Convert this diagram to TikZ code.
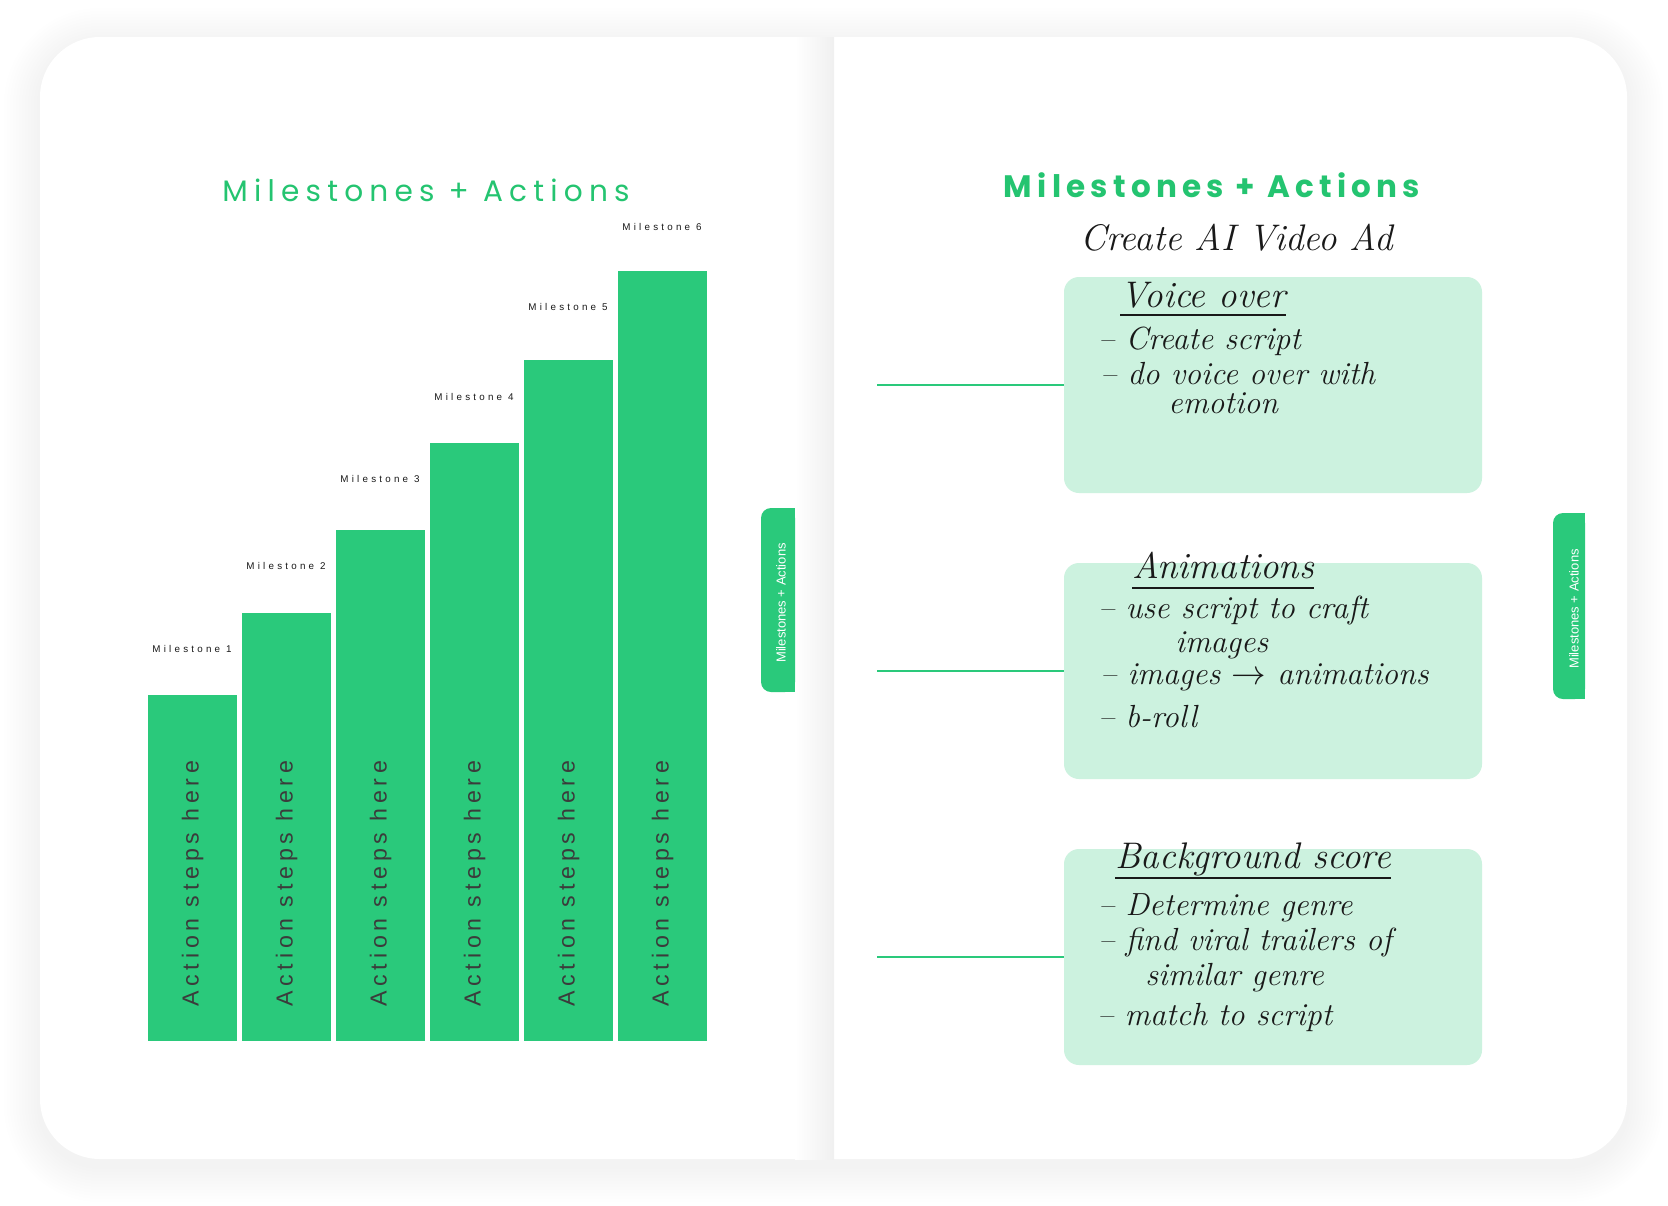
\documentclass[tikz,border=0pt]{standalone}
\usepackage{fontspec}
\usetikzlibrary{positioning,calc}

\newfontfamily\titlefont{Poppins}[LetterSpace=21]
\newfontfamily\headfont{Poppins}[LetterSpace=17]
\newfontfamily\labelfont{Liberation Sans}[LetterSpace=33]
\newfontfamily\stepfont{Liberation Sans}[LetterSpace=20.5]
\newfontfamily\tabfont{Liberation Sans}

\definecolor{bargreen}{RGB}{42,201,123}
\definecolor{titlegreen}{RGB}{36,196,112}
\definecolor{mint}{RGB}{204,242,223}
\definecolor{ink}{RGB}{25,25,25}

\tikzset{
  bar/.style={fill=bargreen, inner sep=0pt, outer sep=0pt, minimum width=44.5pt},
  milestone/.style={font=\labelfont\fontsize{4.9pt}{6pt}\selectfont, text=ink, inner sep=0pt, anchor=base east},
  actionlbl/.style={font=\stepfont\fontsize{11.6pt}{13pt}\selectfont, text=ink!85, inner sep=0pt, rotate=90, anchor=west},
  tabtext/.style={font=\tabfont\fontsize{6.5pt}{8pt}\selectfont, text=white, rotate=90, inner sep=0pt},
  notebox/.style={fill=mint, rounded corners=7.5pt, minimum width=209pt, minimum height=108pt, inner sep=0pt},
  link/.style={draw=bargreen, line width=1pt},
  hand/.style={font=\itshape\fontsize{16pt}{18pt}\selectfont, text=ink, inner sep=0pt, anchor=base west},
  handhead/.style={hand, font=\itshape\fontsize{18.5pt}{22pt}\selectfont},
  underl/.style={draw=ink, line width=0.6pt},
}

\begin{document}
\begin{tikzpicture}[x=0.5pt,y=-0.5pt]
  \fill[white] (0,0) rectangle (1668,1205);
  \useasboundingbox (0,0) rectangle (1668,1205);

  % soft shadow, page and spine
  \foreach \k in {1,...,12} {
    \pgfmathsetmacro\rr{30+1.5*\k}
    \fill[black, opacity=0.005, rounded corners=\rr pt] ({40-3*\k},{44-3*\k}) rectangle ({1627+3*\k},{1166+3*\k});
  }
  \fill[white, rounded corners=30pt] (40,37) rectangle (1627,1159);
  \shade[left color=white, right color=black!6] (795,37) rectangle (834,1159);

  % left page
  \node[font=\titlefont\fontsize{14.8pt}{16pt}\selectfont, text=titlegreen] (ltitle) at (426,190) {Milestones + Actions};

  \foreach \i/\h/\m in {1/346/652.5,2/428.5/569.5,3/511/482.5,4/598.4/400.5,5/680.6/310.5,6/770.5/230.5} {
    \node[bar, minimum height=\h*0.5pt, anchor=south west] (bar\i) at ({148+94*(\i-1)},1041) {};
    \node[milestone] (ms\i) at ({148+94*(\i-1)+84},\m) {Milestone \i};
    \node[actionlbl] (act\i) at ($(bar\i.south)+(0,-34)$) {Action steps here};
  }

  \fill[bargreen, rounded corners=5pt] (761,508) rectangle (795,692);
  \fill[bargreen] (780,508) rectangle (795,692);
  \node[tabtext] (ltab) at (781,603) {Milestones + Actions};

  % right page
  \node[font=\headfont\bfseries\fontsize{15.5pt}{17pt}\selectfont, text=titlegreen] (rtitle) at (1212,185) {Milestones + Actions};
  \node[handhead] (goal) at (1080,250) {Create AI Video Ad};

  \node[notebox] (vbox) at (1273,385) {};
  \node[notebox] (abox) at (1273,671) {};
  \node[notebox] (bbox) at (1273,957) {};

  \coordinate (vlink) at (877,385);
  \coordinate (alink) at (877,671);
  \coordinate (blink) at (877,957);
  \draw[link] (vlink) -- (vbox);
  \draw[link] (alink) -- (abox);
  \draw[link] (blink) -- (bbox);

  % voice over
  \node[handhead] (vhead) at (1120,307) {Voice over};
  \draw[underl] ([yshift=-4pt]vhead.base west) -- ([yshift=-4pt]vhead.base east);
  \node[hand] (v1) at (1098,349) {-- Create script};
  \node[hand] (v2) at (1100,384) {-- do voice over with};
  \node[hand] (v3) at (1168,413) {emotion};

  % animations
  \node[handhead] (ahead) at (1132,578) {Animations};
  \draw[underl] ([yshift=-5pt]ahead.base west) -- ([yshift=-5pt]ahead.base east);
  \node[hand] (a1) at (1098,618) {-- use script to craft};
  \node[hand] (a2) at (1175,652) {images};
  \node[hand] (a3) at (1100,684) {-- images $\rightarrow$ animations};
  \node[hand] (a4) at (1098,727) {-- b-roll};

  % background score
  \node[handhead] (bhead) at (1115,868) {Background score};
  \draw[underl] ([yshift=-5pt]bhead.base west) -- ([yshift=-5pt]bhead.base east);
  \node[hand] (b1) at (1098,915) {-- Determine genre};
  \node[hand] (b2) at (1098,950) {-- find viral trailers of};
  \node[hand] (b3) at (1145,985) {similar genre};
  \node[hand] (b4) at (1097,1025) {-- match to script};

  \fill[bargreen, rounded corners=5pt] (1553,513) rectangle (1585,699);
  \fill[bargreen] (1570,513) rectangle (1585,699);
  \node[tabtext] (rtab) at (1574,609) {Milestones + Actions};
\end{tikzpicture}
\end{document}
